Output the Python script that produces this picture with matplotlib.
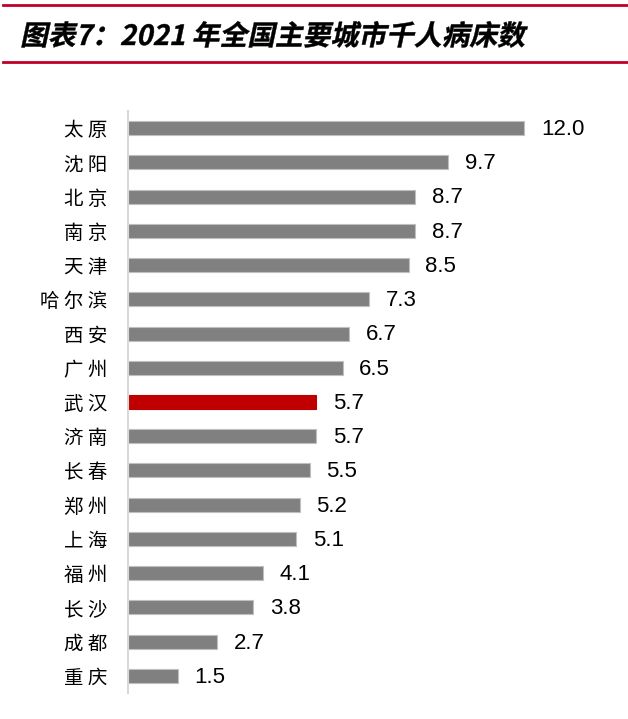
import numpy as np
import matplotlib

matplotlib.use("Agg")
import matplotlib.pyplot as plt
from matplotlib.lines import Line2D
from matplotlib.textpath import TextPath
from matplotlib.patches import PathPatch
from matplotlib.font_manager import FontProperties
from matplotlib.transforms import Affine2D

plt.rcParams["font.family"] = ["Noto Sans CJK SC", "DejaVu Sans"]

########## DATA ########
cities = ["太原", "沈阳", "北京", "南京", "天津", "哈尔滨", "西安", "广州",
          "武汉", "济南", "长春", "郑州", "上海", "福州", "长沙", "成都", "重庆"]
beds = [12.0, 9.7, 8.7, 8.7, 8.5, 7.3, 6.7, 6.5, 5.7, 5.7, 5.5, 5.2, 5.1, 4.1, 3.8, 2.7, 1.5]
highlight = "武汉"
title = "图表7：2021 年全国主要城市千人病床数"
######## END DATA ######

W, H = 628, 719
fig = plt.figure(figsize=(W / 100, H / 100), dpi=100)

## red rules above and below the title
red = "#C00026"
fig.add_artist(Line2D([3 / W, 1.0], [1 - 5 / H, 1 - 5 / H], color=red, lw=2))
fig.add_artist(Line2D([3 / W, 1.0], [1 - 62 / H, 1 - 62 / H], color=red, lw=2))

## italic title: no italic CJK font installed, so skew the glyph outlines
fp = FontProperties(family="Noto Sans CJK SC", weight="bold")
tp = TextPath((0, 0), title, size=20, prop=fp)
tr = (Affine2D().skew_deg(12, 0).scale(1 / 72)
      .translate(20 / 100, (H - 45) / 100) + fig.dpi_scale_trans)
fig.add_artist(PathPatch(tp, transform=tr, facecolor="black", edgecolor="black", lw=0.3))

ax = fig.add_axes([128 / W, 1 - 693 / H, (600 - 128) / W, (693 - 111) / H])
y = np.arange(len(cities))
colors = ["#C00000" if c == highlight else "#808080" for c in cities]
edges = ["#C00000" if c == highlight else "#BFBFBF" for c in cities]
ax.barh(y, beds, height=0.41, color=colors, edgecolor=edges, linewidth=0.8)

for yi, v in zip(y, beds):
    ax.annotate(f"{v:.1f}", (v, yi), xytext=(12, -1), textcoords="offset points",
                va="center", ha="left", fontsize=16, family="Liberation Sans")

ax.set_ylim(len(cities) - 0.5, -0.5)
ax.set_xlim(0, 14.3)
ax.set_yticks(y)
ax.set_yticklabels([" ".join(c) for c in cities], fontsize=14)
ax.tick_params(axis="y", length=0, pad=15)
ax.set_xticks([])
for s in ["top", "right", "bottom"]:
    ax.spines[s].set_visible(False)
ax.spines["left"].set_color("#D9D9D9")
ax.spines["left"].set_linewidth(1.5)

plt.savefig("out.png", dpi=100)
